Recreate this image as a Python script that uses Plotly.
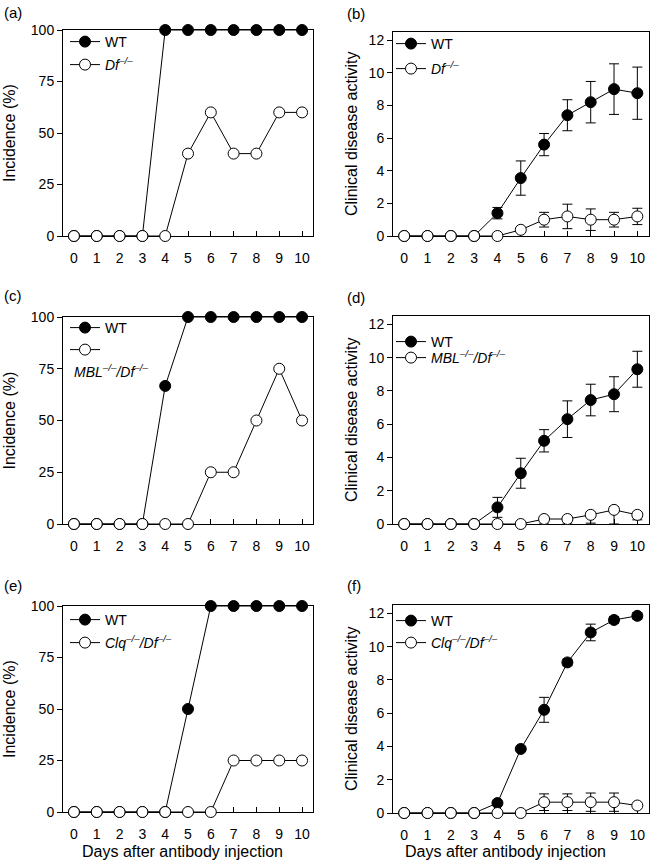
import plotly.graph_objects as go

W, H = 650, 866

days = list(range(11))
x_ticks = list(range(11))
inc_ticks = [0, 25, 50, 75, 100]
cda_ticks = [0, 2, 4, 6, 8, 10, 12]

# (a) incidence, WT vs Df-/-
a_wt = [0, 0, 0, 0, 100, 100, 100, 100, 100, 100, 100]
a_df = [0, 0, 0, 0, 0, 40, 60, 40, 40, 60, 60]
# (b) clinical disease activity, WT vs Df-/-
b_wt = [0, 0, 0, 0, 1.4, 3.55, 5.6, 7.4, 8.2, 9.0, 8.75]
b_wt_err = [0, 0, 0, 0, 0.35, 1.05, 0.68, 0.95, 1.27, 1.55, 1.6]
b_df = [0, 0, 0, 0, 0, 0.38, 1.0, 1.2, 1.0, 1.0, 1.2]
b_df_err = [0, 0, 0, 0, 0, 0, 0.45, 0.75, 0.66, 0.45, 0.5]
# (c) incidence, WT vs MBL-/-/Df-/-
c_wt = [0, 0, 0, 0, 66.7, 100, 100, 100, 100, 100, 100]
c_df = [0, 0, 0, 0, 0, 0, 25, 25, 50, 75, 50]
# (d) clinical disease activity, WT vs MBL-/-/Df-/-
d_wt = [0, 0, 0, 0, 1.0, 3.05, 5.0, 6.3, 7.45, 7.8, 9.3]
d_wt_err = [0, 0, 0, 0, 0.6, 0.9, 0.67, 1.1, 0.95, 1.05, 1.08]
d_df = [0, 0, 0, 0, 0, 0, 0.3, 0.3, 0.55, 0.85, 0.55]
d_df_err_up = [0, 0, 0, 0, 0, 0, 0.1, 0.1, 0.15, 0.2, 0.1]
d_df_err_dn = [0, 0, 0, 0, 0, 0, 0.3, 0.3, 0.5, 0.85, 0.3]
# (e) incidence, WT vs Clq-/-/Df-/-
e_wt = [0, 0, 0, 0, 0, 50, 100, 100, 100, 100, 100]
e_df = [0, 0, 0, 0, 0, 0, 0, 25, 25, 25, 25]
# (f) clinical disease activity, WT vs Clq-/-/Df-/-
f_wt = [0, 0, 0, 0, 0.6, 3.85, 6.2, 9.05, 10.85, 11.6, 11.85]
f_wt_err = [0, 0, 0, 0, 0, 0, 0.75, 0.2, 0.5, 0.2, 0.2]
f_df = [0, 0, 0, 0, 0, 0, 0.65, 0.65, 0.65, 0.65, 0.45]
f_df_err = [0, 0, 0, 0, 0, 0, 0.5, 0.5, 0.55, 0.55, 0]

name_wt = "WT"
name_df = "<i>Df<sup>–/–</sup></i>"
name_mbl = "<i>MBL<sup>–/–</sup>/Df<sup>–/–</sup></i>"
name_clq = "<i>Clq<sup>–/–</sup>/Df<sup>–/–</sup></i>"

panel_labels = ["(a)", "(b)", "(c)", "(d)", "(e)", "(f)"]
y_title_inc = "Incidence (%)"
y_title_cda = "Clinical disease activity"
x_title = "Days after antibody injection"

FONT = "Liberation Sans, Arial, Helvetica, sans-serif"


def xp(px):
    return px / W


def yp(py):
    return 1 - py / H


# panel geometry in pixels: (left, right, top, bottom)
geo = {
    1: (63, 313, 30, 236),
    2: (393, 649, 32, 236),
    3: (63, 313, 317, 524),
    4: (393, 649, 316, 524),
    5: (63, 313, 606, 812),
    6: (393, 649, 605, 813),
}

fig = go.Figure()
legend_count = [0]
layout_legends = {}


def add_series(panel, y, name, filled, leg_px, err=None, err_dn=None):
    legend_count[0] += 1
    k = legend_count[0]
    lname = "legend" if k == 1 else f"legend{k}"
    ax = "" if panel == 1 else str(panel)
    ey = None
    if err is not None:
        ey = dict(type="data", array=err, symmetric=err_dn is None,
                  arrayminus=err_dn, color="black", thickness=1, width=5, visible=True)
    fig.add_trace(go.Scatter(
        x=days, y=y, name=name, mode="lines+markers",
        xaxis="x" + ax, yaxis="y" + ax,
        line=dict(color="black", width=1),
        marker=dict(size=11, color="black" if filled else "white",
                    line=dict(color="black", width=1)),
        error_y=ey, cliponaxis=False, legend=lname, showlegend=True,
    ))
    layout_legends[lname] = dict(
        x=xp(leg_px[0] - 5), y=yp(leg_px[1]), xanchor="left", yanchor="middle",
        bgcolor="rgba(0,0,0,0)", borderwidth=0,
        font=dict(family=FONT, size=14, color="black"),
        itemwidth=30,
    )


add_series(1, a_wt, name_wt, True, (70, 42))
add_series(1, a_df, name_df, False, (70, 65))
add_series(2, b_wt, name_wt, True, (396, 44), b_wt_err)
add_series(2, b_df, name_df, False, (396, 69), b_df_err)
add_series(3, c_wt, name_wt, True, (70, 328))
add_series(3, c_df, " ", False, (70, 350))
add_series(4, d_wt, name_wt, True, (396, 342), d_wt_err)
add_series(4, d_df, name_mbl, False, (396, 358), d_df_err_up, d_df_err_dn)
add_series(5, e_wt, name_wt, True, (70, 620))
add_series(5, e_df, name_clq, False, (70, 643))
add_series(6, f_wt, name_wt, True, (396, 621), f_wt_err)
add_series(6, f_df, name_clq, False, (396, 643), f_df_err)

layout = dict(
    template="none",
    width=W, height=H, margin=dict(l=0, r=0, t=0, b=0, autoexpand=False),
    paper_bgcolor="white", plot_bgcolor="white",
    font=dict(family=FONT, size=14, color="black"),
    showlegend=True,
)
layout.update(layout_legends)

for p, (l, r, t, b) in geo.items():
    ax = "" if p == 1 else str(p)
    is_inc = p % 2 == 1
    layout["xaxis" + ax] = dict(
        domain=[xp(l), xp(r)], anchor="y" + ax,
        range=[-0.48, 10.48] if is_inc else [-0.48, 10.5],
        tickvals=x_ticks, ticks="inside", ticklen=5, tickcolor="black", tickwidth=1,
        showline=True, linecolor="black", linewidth=1, mirror=True,
        showgrid=False, zeroline=False, layer="below traces",
        tickfont=dict(family=FONT, size=14, color="black"),
        ticklabelstandoff=9, automargin=False,
        fixedrange=True,
    )
    layout["yaxis" + ax] = dict(
        domain=[yp(b), yp(t)], anchor="x" + ax,
        range=[0, 100] if is_inc else [0, 12.5],
        tickvals=inc_ticks if is_inc else cda_ticks,
        ticks="outside", ticklen=5, tickcolor="black", tickwidth=1,
        showline=True, linecolor="black", linewidth=1, mirror=True,
        showgrid=False, zeroline=False, layer="below traces",
        tickfont=dict(family=FONT, size=14, color="black"),
        automargin=False,
        fixedrange=True,
    )

fig.update_layout(**layout)

annots = []
label_pos = [(2, 13), (345, 14), (2, 295), (345, 297), (2, 585), (345, 585)]
for txt, (px, py) in zip(panel_labels, label_pos):
    annots.append(dict(text=txt, x=xp(px), y=yp(py), xref="paper", yref="paper",
                       xanchor="left", yanchor="middle", showarrow=False,
                       font=dict(family=FONT, size=15, color="black")))
for p, (l, r, t, b) in geo.items():
    is_inc = p % 2 == 1
    annots.append(dict(text=y_title_inc if is_inc else y_title_cda,
                       x=xp(9 if is_inc else 351), y=yp((t + b) / 2),
                       xref="paper", yref="paper", xanchor="center", yanchor="middle",
                       textangle=-90, showarrow=False,
                       font=dict(family=FONT, size=16, color="black")))
for cx in (182, 505):
    annots.append(dict(text=x_title, x=xp(cx), y=yp(851), xref="paper", yref="paper",
                       xanchor="center", yanchor="middle", showarrow=False,
                       font=dict(family=FONT, size=16, color="black")))
# wrapped legend text for panel (c)
annots.append(dict(text=name_mbl, x=xp(72), y=yp(371), xref="paper", yref="paper",
                   xanchor="left", yanchor="middle", showarrow=False,
                   font=dict(family=FONT, size=14, color="black")))
fig.update_layout(annotations=annots)

# remove the browser's default 8px body margin so the figure sits at (0, 0)
fig.write_html(
    "out.html",
    config={"displayModeBar": False},
    post_script="document.body.style.margin='0';document.body.style.overflow='hidden';",
)
